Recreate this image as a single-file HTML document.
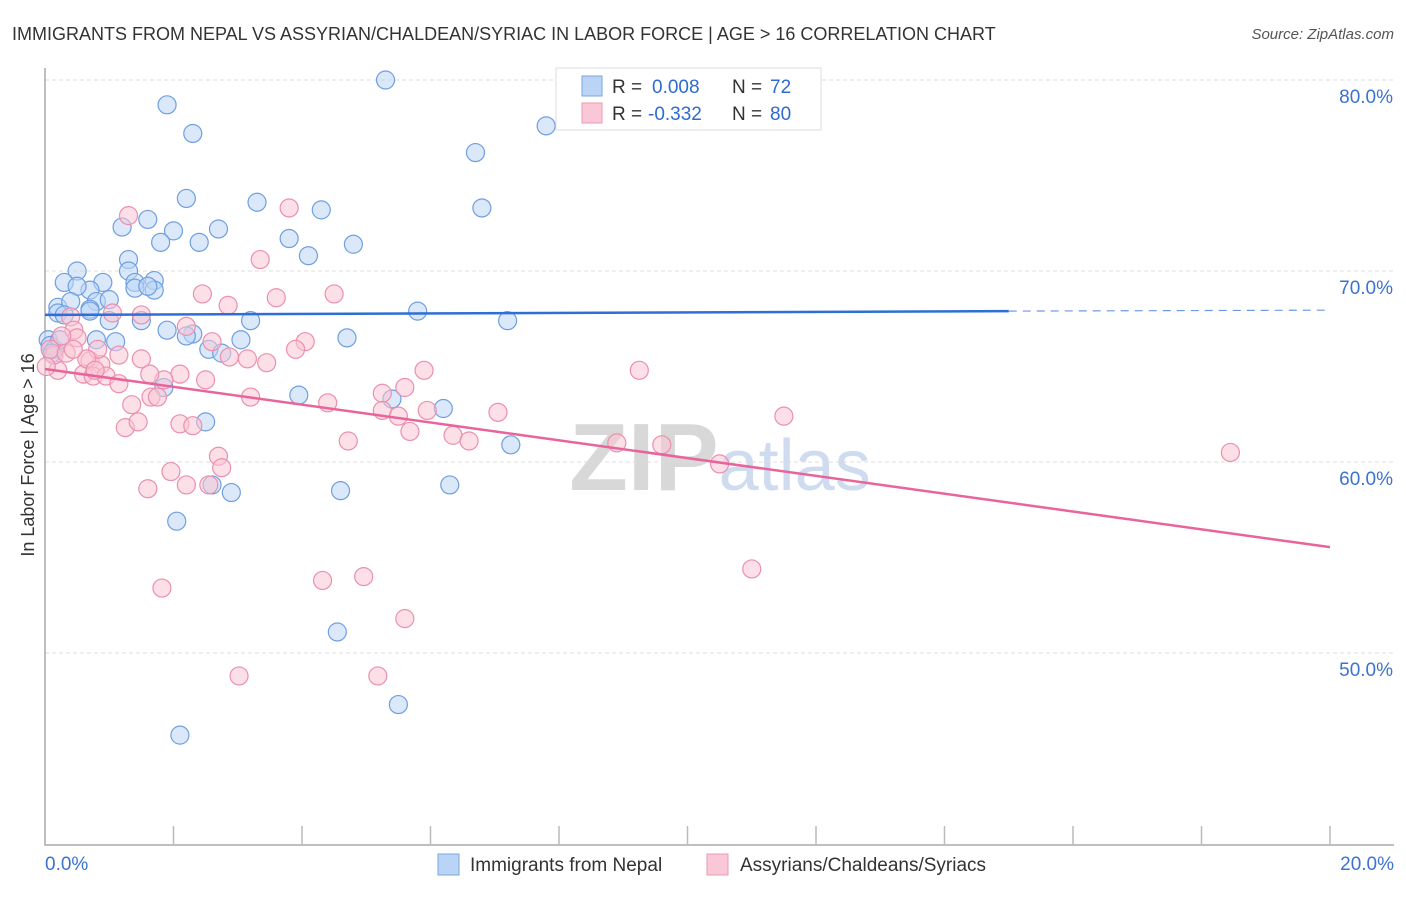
<!DOCTYPE html>
<html><head><meta charset="utf-8"><style>
body{margin:0;background:#fff;font-family:"Liberation Sans",sans-serif;}
svg text{font-family:"Liberation Sans",sans-serif;}
</style></head><body>
<svg id="chart" width="1406" height="892" xmlns="http://www.w3.org/2000/svg">
<text x="12" y="40" font-size="18" fill="#333">IMMIGRANTS FROM NEPAL VS ASSYRIAN/CHALDEAN/SYRIAC IN LABOR FORCE | AGE &gt; 16 CORRELATION CHART</text>
<text x="1394" y="39" font-size="15" fill="#555" font-style="italic" text-anchor="end">Source: ZipAtlas.com</text>
<text x="720" y="490" font-size="96" fill="#ddd" text-anchor="middle" font-family="Liberation Serif"><tspan fill="#d8d8d8" font-weight="bold">ZIP</tspan><tspan fill="#cfdcf0" font-family="Liberation Sans" font-size="72">atlas</tspan></text>
<g id="grid"></g>
<g id="axes"></g>
<g id="pts"></g>
<g id="trend"></g>
<text transform="translate(34,455) rotate(-90)" font-size="18" fill="#333" text-anchor="middle">In Labor Force | Age &gt; 16</text>
<g>
<rect x="556" y="68" width="265" height="62" fill="#fff" stroke="#ddd"/>
<rect x="582" y="76" width="20" height="20" fill="#b9d4f5" stroke="#7aa6e0"/>
<rect x="582" y="103" width="20" height="20" fill="#f9c7d6" stroke="#ee9ab5"/>
<text x="612" y="93" font-size="19" fill="#333">R =</text>
<text x="652" y="93" font-size="19" fill="#2d6bd0">0.008</text>
<text x="732" y="93" font-size="19" fill="#333">N =</text>
<text x="770" y="93" font-size="19" fill="#2d6bd0">72</text>
<text x="612" y="120" font-size="19" fill="#333">R =</text>
<text x="648" y="120" font-size="19" fill="#2d6bd0">-0.332</text>
<text x="732" y="120" font-size="19" fill="#333">N =</text>
<text x="770" y="120" font-size="19" fill="#2d6bd0">80</text>
</g>
<g>
<rect x="438" y="854" width="21" height="21" fill="#b9d4f5" stroke="#7aa6e0"/>
<text x="470" y="871" font-size="19" fill="#333">Immigrants from Nepal</text>
<rect x="707" y="854" width="21" height="21" fill="#f9c7d6" stroke="#ee9ab5"/>
<text x="740" y="871" font-size="19" fill="#333">Assyrians/Chaldeans/Syriacs</text>
</g>
</svg>
<script>
const yTicks=[50,60,70,80];
const xTickLabels=["0.0%","20.0%"];
const nepalX=[5.3,1.9,2.3,7.8,11.2,6.7,2.2,3.3,6.8,4.3,1.6,1.2,2.0,2.7,1.8,2.4,3.8,4.8,4.1,1.3,0.5,1.3,0.3,0.9,1.7,1.4,1.4,1.7,1.6,0.7,0.5,0.2,0.4,0.8,1.0,0.2,0.7,0.3,0.7,5.8,1.0,1.5,3.2,7.2,1.9,2.3,2.2,3.05,4.7,0.8,1.1,0.05,0.08,0.15,2.55,2.75,1.85,3.95,5.4,6.2,2.5,7.25,6.3,2.9,2.6,4.6,2.05,4.55,5.5,2.1,0.23,0.11];
const nepalY=[80.0,78.7,77.2,77.6,78.1,76.2,73.8,73.6,73.3,73.2,72.7,72.3,72.1,72.2,71.5,71.5,71.7,71.4,70.8,70.6,70.0,70.0,69.4,69.4,69.5,69.4,69.1,69.0,69.2,69.0,69.2,68.1,68.4,68.4,68.5,67.8,68.0,67.7,67.9,67.9,67.4,67.4,67.4,67.4,66.9,66.7,66.6,66.4,66.5,66.4,66.3,66.4,66.1,65.9,65.9,65.7,63.9,63.5,63.3,62.8,62.1,60.9,58.8,58.4,58.8,58.5,56.9,51.1,47.3,45.7,66.4,65.7];
const nepalTrendX=[0,15,20];
const nepalTrendY=[67.7,67.9,67.95];
const assyX=[1.3,3.8,3.35,2.45,3.6,4.5,2.85,0.4,1.05,1.5,2.2,0.45,0.5,2.6,4.05,3.9,1.15,1.5,0.7,0.87,3.15,3.45,0.2,0.6,0.75,0.95,1.15,2.1,2.5,1.85,5.9,9.25,5.25,5.6,3.2,1.65,1.75,1.35,4.4,5.25,5.5,5.95,7.05,11.5,1.25,1.45,2.1,2.3,5.68,6.35,6.6,4.72,8.9,9.6,18.45,2.7,2.75,1.96,10.5,1.6,2.2,2.55,4.96,4.32,11.0,1.82,5.6,3.02,5.18,0.26,0.14,0.02,0.08,0.33,0.82,0.65,1.63,0.44,2.87,0.78];
const assyY=[72.9,73.3,70.6,68.8,68.6,68.8,68.2,67.6,67.8,67.7,67.1,66.9,66.5,66.3,66.3,65.9,65.6,65.4,65.3,65.1,65.4,65.2,64.8,64.6,64.5,64.5,64.1,64.6,64.3,64.3,64.8,64.8,63.6,63.9,63.4,63.4,63.4,63.0,63.1,62.7,62.4,62.7,62.6,62.4,61.8,62.1,62.0,61.9,61.6,61.4,61.1,61.1,61.0,60.9,60.5,60.3,59.7,59.5,59.9,58.6,58.8,58.8,54.0,53.8,54.4,53.4,51.8,48.8,48.8,66.6,65.6,65.0,65.9,65.7,65.9,65.4,64.6,65.9,65.5,64.8];
const ns="http://www.w3.org/2000/svg";
const X0=45,X1=1330,YB=845;
function sx(v){return X0+(v/20)*(X1-X0);}
function sy(v){return 80+(80-v)*19.1;}
function mk(tag,attrs,parent){const e=document.createElementNS(ns,tag);for(const k in attrs)e.setAttribute(k,attrs[k]);parent.appendChild(e);return e;}
const grid=document.getElementById('grid'),axes=document.getElementById('axes'),pts=document.getElementById('pts'),trend=document.getElementById('trend');
yTicks.forEach(t=>{
 const l=mk('line',{x1:X0,x2:1394,y1:sy(t),y2:sy(t),stroke:'#ddd','stroke-dasharray':'4,3'},grid);
 
 
 const tx=mk('text',{x:1393,y:sy(t)+23,'font-size':19,fill:'#3b73cf','text-anchor':'end'},grid);
 tx.textContent=t.toFixed(1)+'%';
 
 
});
const ax=mk('path',{d:`M${X0},68 V${YB} H1394`,stroke:'#aaa','stroke-width':1.5,fill:'none'},axes);


for(let i=1;i<=10;i++){
 const tk=mk('line',{x1:sx(i*2),x2:sx(i*2),y1:YB-19,y2:YB,stroke:'#bbb','stroke-width':1.5},axes);
 
 
}
const xl0=mk('text',{x:45,y:870,'font-size':19,fill:'#3b73cf'},axes);xl0.textContent=xTickLabels[0];


const xl1=mk('text',{x:1394,y:870,'font-size':19,fill:'#3b73cf','text-anchor':'end'},axes);xl1.textContent=xTickLabels[1];


function series(xs,ys,fill,stroke,name){
 xs.forEach((x,i)=>{
  const c=mk('circle',{cx:sx(x),cy:sy(ys[i]),r:9,fill:fill,'fill-opacity':0.55,stroke:stroke,'stroke-width':1.2},pts);
  
  
 });
}
series(nepalX,nepalY,'#bcd5f5','#6f9fe0','nepal');
series(assyX,assyY,'#f9c4d4','#ec8fae','assyrian');
function fit(xs,ys){const n=xs.length;let mx=0,my=0;xs.forEach((x,i)=>{mx+=x;my+=ys[i];});mx/=n;my/=n;let a=0,b=0;xs.forEach((x,i)=>{a+=(x-mx)*(ys[i]-my);b+=(x-mx)*(x-mx);});const s=a/b;return [my-s*mx,s];}
const bl=mk('line',{x1:sx(nepalTrendX[0]),y1:sy(nepalTrendY[0]),x2:sx(nepalTrendX[1]),y2:sy(nepalTrendY[1]),stroke:'#2d6fd6','stroke-width':2.5},trend);


const bd=mk('line',{x1:sx(nepalTrendX[1]),y1:sy(nepalTrendY[1]),x2:sx(nepalTrendX[2]),y2:sy(nepalTrendY[2]),stroke:'#2d6fd6','stroke-width':1.2,'stroke-dasharray':'8,6','opacity':0.7},trend);


const [pb,ps]=fit(assyX,assyY);
const pl=mk('line',{x1:sx(0),y1:sy(pb),x2:sx(20),y2:sy(pb+ps*20),stroke:'#e8649a','stroke-width':2.5},trend);


</script>
</body></html>
